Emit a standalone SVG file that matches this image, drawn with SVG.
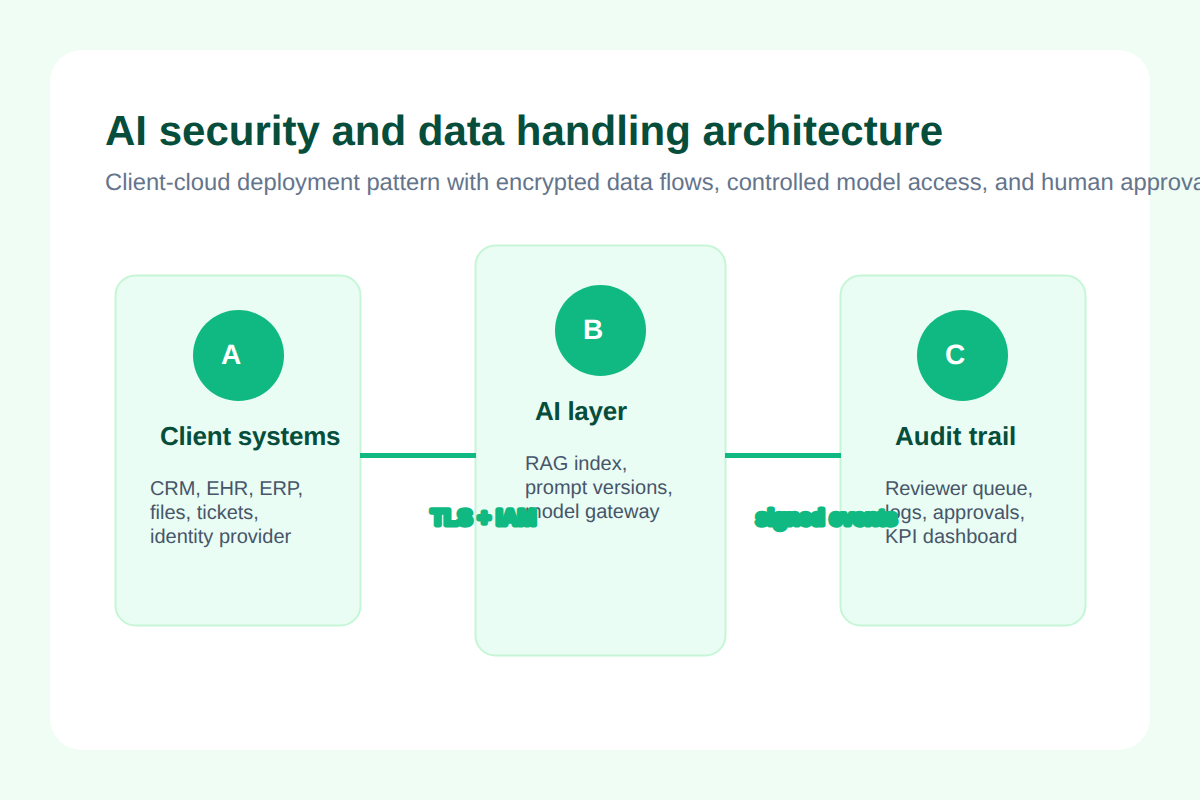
<svg xmlns="http://www.w3.org/2000/svg" width="1200" height="800" viewBox="0 0 1200 800">
<style>
text{font-family:"Liberation Sans",Arial,sans-serif;text-rendering:geometricPrecision}
.card{fill:#e9fdf4;stroke:#c6f6d5;stroke-width:2}
.dot{fill:#10b981}
.letter{fill:#fff;font-size:28px;font-weight:700;text-anchor:middle}
.name{fill:#064e3b;font-size:26px;font-weight:700}
.body{fill:#475569;font-size:20px}
.link{stroke:#10b981;stroke-width:5;fill:none}
.tag{fill:#10b981;stroke:#10b981;stroke-width:5;stroke-linejoin:round;stroke-linecap:round;font-size:22px;font-weight:700}
</style>
<rect width="1200" height="800" fill="#f0fdf4"/>
<rect x="50" y="50" width="1100" height="700" rx="32" fill="#fff"/>
<text x="105" y="145" font-size="42" font-weight="700" fill="#064e3b" textLength="838">AI security and data handling architecture</text>
<text x="105" y="190" font-size="23.760" fill="#64748b">Client-cloud deployment pattern with encrypted data flows, controlled model access, and human approval</text>
<g id="node-a">
<rect class="card" x="115.500" y="275.500" width="245" height="350" rx="20"/>
<circle class="dot" cx="238.500" cy="355.500" r="45.500"/>
<text class="letter" x="231" y="364">A</text>
<text class="name" x="160" y="445" textLength="180.500">Client systems</text>
<text class="body" x="150" y="495" textLength="153">CRM, EHR, ERP,</text>
<text class="body" x="150" y="519">files, tickets,</text>
<text class="body" x="150" y="543">identity provider</text>
</g>
<g id="node-b">
<rect class="card" x="475.500" y="245.500" width="250" height="410" rx="20"/>
<circle class="dot" cx="600.500" cy="330.500" r="45.500"/>
<text class="letter" x="593" y="339">B</text>
<text class="name" x="535" y="420" textLength="92">AI layer</text>
<text class="body" x="525" y="470">RAG index,</text>
<text class="body" x="525" y="494">prompt versions,</text>
<text class="body" x="525" y="518">model gateway</text>
</g>
<g id="node-c">
<rect class="card" x="840.500" y="275.500" width="245" height="350" rx="20"/>
<circle class="dot" cx="962.500" cy="355.500" r="45.500"/>
<text class="letter" x="955" y="364">C</text>
<text class="name" x="895" y="445">Audit trail</text>
<text class="body" x="885" y="495" textLength="148">Reviewer queue,</text>
<text class="body" x="885" y="519">logs, approvals,</text>
<text class="body" x="885" y="543">KPI dashboard</text>
</g>
<g id="connectors">
<line class="link" x1="360" y1="455.500" x2="476" y2="455.500"/>
<line class="link" x1="725" y1="455.500" x2="841" y2="455.500"/>
<text class="tag" x="431" y="525" textLength="105">TLS + IAM</text>
<text class="tag" x="756" y="525" textLength="141">signed events</text>
</g>
</svg>
